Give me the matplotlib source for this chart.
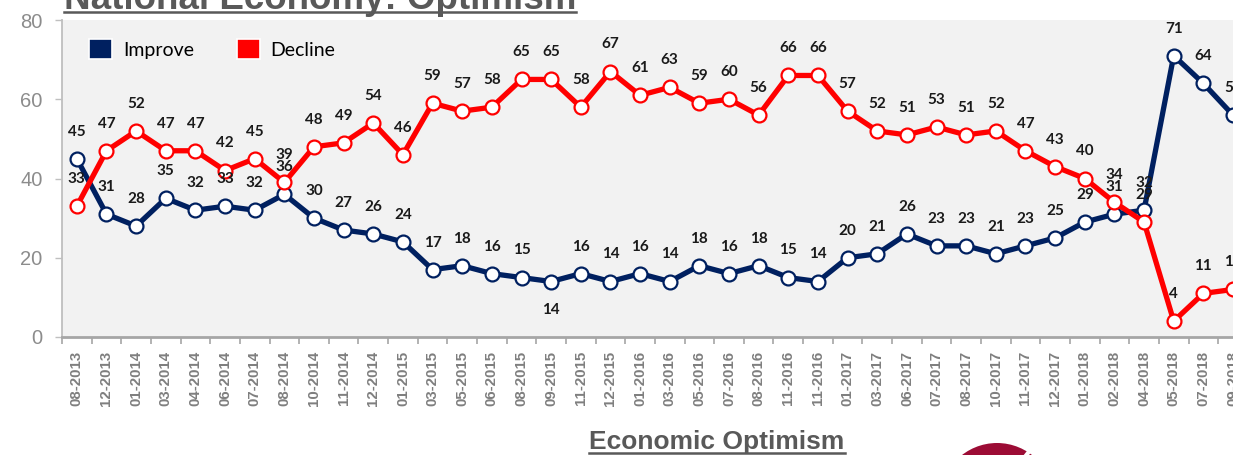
import numpy as np
import matplotlib
matplotlib.use("Agg")
import matplotlib.pyplot as plt
from matplotlib.patches import Patch, Ellipse
from matplotlib.lines import Line2D

# datos
fechas = ["08-2013", "12-2013", "01-2014", "03-2014", "04-2014", "06-2014", "07-2014",
          "08-2014", "10-2014", "11-2014", "12-2014", "01-2015", "03-2015", "05-2015",
          "06-2015", "08-2015", "09-2015", "11-2015", "12-2015", "01-2016", "03-2016",
          "05-2016", "07-2016", "08-2016", "11-2016", "11-2016", "01-2017", "03-2017",
          "06-2017", "07-2017", "08-2017", "10-2017", "11-2017", "12-2017", "01-2018",
          "02-2018", "04-2018", "05-2018", "07-2018", "09-2018"]
improve = [45, 31, 28, 35, 32, 33, 32, 36, 30, 27, 26, 24, 17, 18, 16, 15, 14, 16, 14, 16,
           14, 18, 16, 18, 15, 14, 20, 21, 26, 23, 23, 21, 23, 25, 29, 31, 32, 71, 64, 56]
decline = [33, 47, 52, 47, 47, 42, 45, 39, 48, 49, 54, 46, 59, 57, 58, 65, 65, 58, 67, 61,
           63, 59, 60, 56, 66, 66, 57, 52, 51, 53, 51, 52, 47, 43, 40, 34, 29, 4, 11, 12]

AZUL = "#002060"
ROJO = "#ff0000"
GRIS = "#7f7f7f"

W, H = 1233, 455
fig = plt.figure(figsize=(W / 100, H / 100), dpi=100)
ax = fig.add_axes([62 / W, (H - 337) / H, (W - 62) / W, 317 / H])
ax.set_facecolor("#f2f2f2")

x = np.arange(len(fechas))
for serie, color in [(improve, AZUL), (decline, ROJO)]:
    ax.plot(x, serie, color=color, lw=3.8, marker="o", ms=10, mfc="white",
            mec=color, mew=1.6, solid_joinstyle="round", zorder=3)

# etiquetas de valores (la del 09-2015 de Improve va debajo)
abajo = {("imp", 16)}
for nombre, serie in [("imp", improve), ("dec", decline)]:
    for i, v in enumerate(serie):
        dy = -20.5 if (nombre, i) in abajo else 19.5
        ax.annotate(str(v), (i, v), xytext=(0, dy), textcoords="offset points",
                    ha="center", va="center", fontsize=11, fontweight="bold",
                    family="Lato", color="#1a1a1a", annotation_clip=False, zorder=4)

ax.set_yticks([0, 20, 40, 60, 80])
ax.tick_params(axis="y", length=5, width=1, color="#bfbfbf", pad=9,
               labelsize=14.5, labelcolor="#8c8c8c")
for lab in ax.get_yticklabels():
    lab.set_family("Liberation Sans")

ax.set_xticks(np.arange(-0.5, len(fechas), 1))
ax.set_xticklabels([])
ax.tick_params(axis="x", which="major", length=5, width=1.2, color="#a6a6a6")
ax.set_xticks(x, minor=True)
ax.set_xticklabels(fechas, minor=True, rotation=90, fontsize=10.8, fontweight="bold",
                   color=GRIS, family="Liberation Sans")
ax.tick_params(axis="x", which="minor", length=0, pad=10)
# los limites despues de los ticks (set_xticks los amplia)
ax.set_xlim(-0.5, 39.0)
ax.set_ylim(0, 80)

for s in ["top", "right"]:
    ax.spines[s].set_visible(False)
ax.spines["left"].set_color("#bfbfbf")
ax.spines["left"].set_linewidth(1.3)
ax.spines["bottom"].set_color("#a6a6a6")
ax.spines["bottom"].set_linewidth(2)

handles = [Patch(facecolor=AZUL, edgecolor="white", lw=1.2, label="Improve"),
           Patch(facecolor=ROJO, edgecolor="white", lw=1.2, label="Decline")]
leg = ax.legend(handles=handles, loc="upper left", ncol=2, frameon=False,
                bbox_to_anchor=(0.008, 0.995), handlelength=1.2, handleheight=1.2,
                handletextpad=0.55, columnspacing=2.2,
                prop={"family": "Lato", "size": 14})

# titulos subrayados
t1 = fig.text(320 / W, 1 - 9 / H, "National Economy: Optimism", ha="center",
              va="baseline", fontsize=26.5, fontweight="bold", color="#595959",
              family="Liberation Sans")
t2 = fig.text(717 / W, 1 - 449 / H, "Economic Optimism", ha="center", va="baseline",
              fontsize=19, fontweight="bold", color="#595959", family="Liberation Sans")
fig.canvas.draw()
r = fig.canvas.get_renderer()
for t, yy in [(t1, 12), (t2, 453)]:
    bb = t.get_window_extent(r)
    fig.add_artist(Line2D([bb.x0 / W, bb.x1 / W], [1 - yy / H] * 2,
                          color="#595959", lw=1.8, transform=fig.transFigure))

# logo parcial abajo
fig.add_artist(Ellipse((997 / W, 1 - 500 / H), 114 / W, 114 / H, transform=fig.transFigure,
                       facecolor="#9c0c35", edgecolor="none"))
fig.add_artist(Line2D([1024 / W, 1040 / W], [1 - 458 / H, 1 - 438 / H], color="white",
                      lw=3, transform=fig.transFigure))

fig.savefig("out.png", dpi=100)
